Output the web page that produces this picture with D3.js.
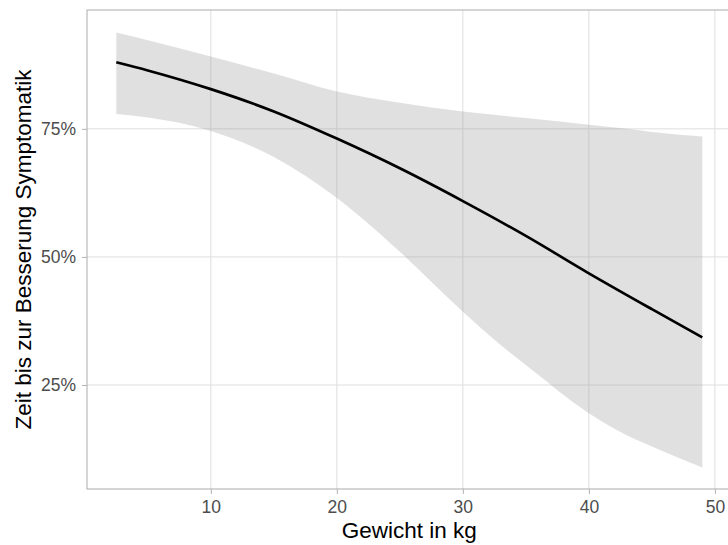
<!DOCTYPE html>
<html><head><meta charset="utf-8">
<script src="https://cdn.jsdelivr.net/npm/d3@7"></script>
<style>body{margin:0;background:#fff}svg{display:block}text{font-family:"Liberation Sans",Arial,sans-serif}</style>
</head><body><svg id="c" width="728" height="545"></svg>
<script>
const lineX = [2.5, 5, 10, 15, 20, 25, 30, 35, 40, 45, 49];
const lineY = [0.880, 0.864, 0.8275, 0.784, 0.731, 0.673, 0.609, 0.541, 0.468, 0.398, 0.343];
const bandX = [2.5, 5, 10, 15, 20, 25, 30, 33, 35, 40, 43, 45, 49];
const upperY = [0.938, 0.923, 0.891, 0.858, 0.823, 0.801, 0.784, 0.776, 0.771, 0.758, 0.750, 0.744, 0.735];
const lowerY = [0.779, 0.772, 0.746, 0.695, 0.615, 0.510, 0.393, 0.328, 0.289, 0.195, 0.152, 0.130, 0.089];
const xTicks = [10, 20, 30, 40, 50];
const yTicks = [0.25, 0.5, 0.75];
const xTitle = "Gewicht in kg";
const yTitle = "Zeit bis zur Besserung Symptomatik";

const svg = d3.select("#c");
const L = 87, T = 10, B = 489, R = 731.6;
const x = d3.scaleLinear().domain([0.175, 51.325]).range([L, R]);
const y = d3.scaleLinear().domain([0.047, 0.982]).range([B, T]);

const g = svg.append("g");
g.selectAll(".gx").data(xTicks).join("line")
  .attr("x1", d => x(d)).attr("x2", d => x(d)).attr("y1", T).attr("y2", B)
  .attr("stroke", "#dedede").attr("stroke-width", 1);
g.selectAll(".gy").data(yTicks).join("line")
  .attr("y1", d => y(d)).attr("y2", d => y(d)).attr("x1", L).attr("x2", R)
  .attr("stroke", "#dedede").attr("stroke-width", 1);

// ribbon
const area = d3.area().x((d, i) => x(bandX[i])).y0((d, i) => y(lowerY[i])).y1(d => y(d))
  .curve(d3.curveMonotoneX);
g.append("path").datum(upperY).attr("d", area).attr("fill", "#999").attr("fill-opacity", 0.3);

// line
const line = d3.line().x((d, i) => x(lineX[i])).y(d => y(d)).curve(d3.curveMonotoneX);
g.append("path").datum(lineY).attr("d", line).attr("fill", "none").attr("stroke", "#000").attr("stroke-width", 2.7);

// border
g.append("rect").attr("x", L).attr("y", T).attr("width", R - L).attr("height", B - T)
  .attr("fill", "none").attr("stroke", "#b3b3b3").attr("stroke-width", 1.1);

const xa = svg.append("g").attr("transform", `translate(0,${B})`)
  .call(d3.axisBottom(x).tickValues(xTicks).tickSize(5).tickPadding(7).tickFormat(d3.format("d")));
const ya = svg.append("g").attr("transform", `translate(${L},0)`)
  .call(d3.axisLeft(y).tickValues(yTicks).tickSize(5).tickPadding(6).tickFormat(d3.format(".0%")));
[xa, ya].forEach(a => {
  a.select(".domain").remove();
  a.selectAll("line").attr("stroke", "#b3b3b3");
  a.selectAll("text").attr("fill", "#4d4d4d").style("font-size", "17.5px")
    .style("font-family", '"Liberation Sans", Arial, sans-serif');
});

svg.append("text").attr("x", x(25.75)).attr("y", 538).attr("text-anchor", "middle")
  .style("font-size", "22.5px").attr("fill", "#000").text(xTitle);
svg.append("text").attr("transform", `translate(31,${(T + B) / 2}) rotate(-90)`)
  .attr("text-anchor", "middle").style("font-size", "22.5px").attr("fill", "#000").text(yTitle);
</script></body></html>
